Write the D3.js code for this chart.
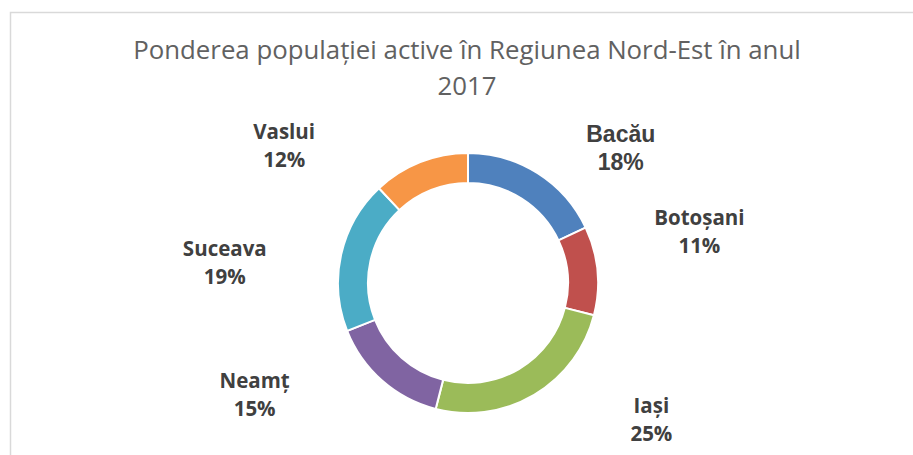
<!DOCTYPE html>
<html lang="ro">
<head>
    <meta charset="UTF-8">
    <title>Ponderea populației active</title>
    <script src="https://d3js.org/d3.v7.min.js"></script>
    <style>
        body { margin: 0; background: #fff; }
        svg { display: block; }
        .title { font-family: "Open Sans", sans-serif; font-size: 25.8px; fill: #616161; }
        .label { font-family: "Open Sans", sans-serif; font-weight: bold; font-size: 20.5px; fill: #404040; }
        .label.arial { font-family: "Liberation Sans", Arial, sans-serif; font-size: 23px; }
    </style>
</head>
<body>
<svg id="chart" width="913" height="455"></svg>
<script>
    // Data
    const judete = ["Bacău", "Botoșani", "Iași", "Neamț", "Suceava", "Vaslui"];
    const ponderi = [18, 11, 25, 15, 19, 12];
    const culori = ["#4F81BD", "#C0504D", "#9BBB59", "#8064A2", "#4BACC6", "#F79646"];
    const titlu = ["Ponderea populației active în Regiunea Nord-Est în anul", "2017"];

    // label layout (Excel "best fit" puts them off the mid-angle)
    const labelRadius = [203, 237, 229, 241, 244, 229];
    const labelTurn = [16.4, -7.1, -22.6, 20.9, -8, -31.8]; // degrees

    const width = 913, height = 455;
    const cx = 468, cy = 283;
    const outerR = 130, innerR = 100;

    const svg = d3.select("#chart");

    // chart frame (only top & left visible in the crop)
    svg.append("rect")
        .attr("x", 10.5).attr("y", 12.5)
        .attr("width", 1000).attr("height", 1000)
        .attr("fill", "none")
        .attr("stroke", "#d9d9d9")
        .attr("stroke-width", 1.5);

    // title
    svg.append("text")
        .attr("class", "title")
        .attr("text-anchor", "middle")
        .selectAll("tspan")
        .data(titlu)
        .enter()
        .append("tspan")
        .attr("x", 467)
        .attr("y", (d, i) => 59 + i * 36)
        .text(d => d);

    const data = judete.map((j, i) => ({ name: j, value: ponderi[i], color: culori[i], i }));

    const pie = d3.pie().value(d => d.value).sort(null);
    const arc = d3.arc().innerRadius(innerR).outerRadius(outerR);

    const g = svg.append("g").attr("transform", `translate(${cx},${cy})`);
    const arcs = pie(data);

    g.selectAll("path")
        .data(arcs)
        .enter()
        .append("path")
        .attr("d", arc)
        .attr("fill", d => d.data.color)
        .attr("stroke", "#fff")
        .attr("stroke-width", 2);

    // labels
    const total = d3.sum(ponderi);
    const lbl = g.selectAll(".label")
        .data(arcs)
        .enter()
        .append("text")
        .attr("class", d => d.data.i === 0 ? "label arial" : "label")
        .attr("text-anchor", "middle")
        .attr("transform", d => {
            const a = (d.startAngle + d.endAngle) / 2 + labelTurn[d.data.i] * Math.PI / 180;
            const r = labelRadius[d.data.i];
            return `translate(${r * Math.sin(a)},${-r * Math.cos(a)})`;
        });

    lbl.append("tspan")
        .attr("x", 0).attr("y", -7)
        .text(d => d.data.name);
    lbl.append("tspan")
        .attr("x", 0).attr("y", 21)
        .text(d => Math.round(d.data.value / total * 100) + "%");
</script>
</body>
</html>
